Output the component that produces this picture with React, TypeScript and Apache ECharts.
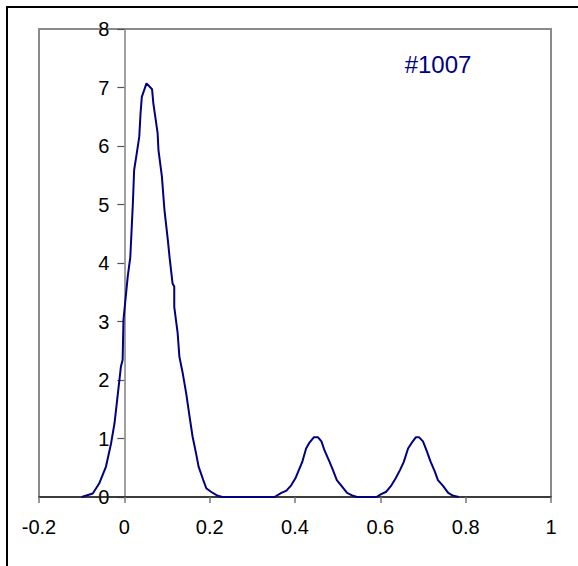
import React, { useEffect, useRef } from "react";
import * as echarts from "echarts";

const xValues = [
  -0.1, -0.074, -0.059, -0.043, -0.031, -0.023, -0.016, -0.008, -0.004, -0.002,
  0.008, 0.014, 0.02, 0.023, 0.029, 0.035, 0.038, 0.041, 0.052, 0.065, 0.068,
  0.078, 0.08, 0.088, 0.094, 0.102, 0.106, 0.113, 0.117, 0.117, 0.125, 0.129,
  0.137, 0.145, 0.153, 0.16, 0.168, 0.174, 0.185, 0.192, 0.203, 0.219, 0.23,
  0.352, 0.368, 0.38, 0.391, 0.401, 0.409, 0.417, 0.426, 0.434, 0.444, 0.454,
  0.462, 0.469, 0.481, 0.489, 0.498, 0.509, 0.522, 0.536, 0.545,
  0.591, 0.602, 0.614, 0.626, 0.636, 0.646, 0.655, 0.665, 0.673, 0.683, 0.691,
  0.7, 0.708, 0.718, 0.728, 0.735, 0.747, 0.759, 0.771, 0.784,
];
const yValues = [
  0, 0.06, 0.23, 0.52, 0.92, 1.26, 1.71, 2.23, 2.34, 3.03,
  3.77, 4.1, 5.02, 5.59, 5.87, 6.16, 6.56, 6.84, 7.07, 6.97, 6.73,
  6.22, 5.93, 5.48, 4.91, 4.39, 4.1, 3.65, 3.6, 3.25, 2.8, 2.4,
  2.11, 1.77, 1.37, 1.03, 0.75, 0.52, 0.29, 0.15, 0.09, 0.02, 0,
  0, 0.07, 0.11, 0.2, 0.32, 0.46, 0.6, 0.83, 0.93, 1.02, 1.02,
  0.95, 0.8, 0.6, 0.46, 0.29, 0.19, 0.07, 0.02, 0,
  0, 0.05, 0.09, 0.2, 0.32, 0.46, 0.6, 0.83, 0.92, 1.02, 1.02,
  0.95, 0.8, 0.6, 0.43, 0.29, 0.19, 0.07, 0.02, 0,
];
const labelText = "#1007";

const GRID_LEFT = 39;
const GRID_RIGHT = 27;
const WIDTH = 578;
const X_MIN = -0.2;
const X_MAX = 1;

export default function App() {
  const ref = useRef<HTMLDivElement>(null);
  useEffect(() => {
    if (!ref.current) return;
    const chart = echarts.init(ref.current, null, { renderer: "svg" });
    const data = xValues.map((x, i) => [x, yValues[i]]);
    const plotW = WIDTH - GRID_LEFT - GRID_RIGHT;
    const zeroOffset = ((0 - X_MIN) / (X_MAX - X_MIN)) * plotW;
    chart.setOption({
      animation: false,
      backgroundColor: "#ffffff",
      textStyle: { fontFamily: "Liberation Sans, Arial, sans-serif" },
      grid: {
        left: GRID_LEFT,
        top: 29,
        right: GRID_RIGHT,
        bottom: 69,
        show: true,
        borderColor: "#8a8a8a",
        borderWidth: 2,
        backgroundColor: "transparent",
      },
      xAxis: {
        type: "value",
        min: X_MIN,
        max: X_MAX,
        interval: 0.2,
        axisLine: { onZero: false, lineStyle: { color: "#222", width: 1.5 } },
        axisTick: { show: true, length: 6, lineStyle: { color: "#777", width: 1.5 } },
        axisLabel: {
          color: "#000",
          fontSize: 20,
          margin: 20,
          fontFamily: "Liberation Sans, Arial, sans-serif",
          formatter: (v: number) => String(Math.round(v * 10) / 10),
        },
        splitLine: { show: false },
        z: 3,
      },
      yAxis: {
        type: "value",
        min: 0,
        max: 8,
        interval: 1,
        offset: -zeroOffset,
        axisLine: { show: true, onZero: false, lineStyle: { color: "#808080", width: 1.5 } },
        axisTick: { show: true, length: 7, lineStyle: { color: "#555", width: 1.2 } },
        axisLabel: {
          color: "#000",
          fontSize: 20,
          margin: 15,
          fontFamily: "Liberation Sans, Arial, sans-serif",
        },
        splitLine: { show: false },
      },
      graphic: [
        {
          type: "rect",
          shape: { x: 7, y: 7, width: 700, height: 700 },
          style: { fill: "none", stroke: "#000", lineWidth: 2 },
          silent: true,
        },
        {
          type: "text",
          x: 438,
          y: 64,
          style: {
            text: labelText,
            fill: "#000080",
            fontSize: 24,
            fontFamily: "Liberation Sans, Arial, sans-serif",
            textAlign: "center",
            textVerticalAlign: "middle",
          },
        },
      ],
      series: [
        {
          type: "line",
          data,
          showSymbol: false,
          symbol: "none",
          lineStyle: { color: "#000080", width: 2 },
          itemStyle: { color: "#000080" },
          z: 5,
        },
      ],
    });
    return () => chart.dispose();
  }, []);
  return (
    <div
      ref={ref}
      style={{ position: "fixed", left: 0, top: 0, width: 578, height: 566 }}
    />
  );
}
